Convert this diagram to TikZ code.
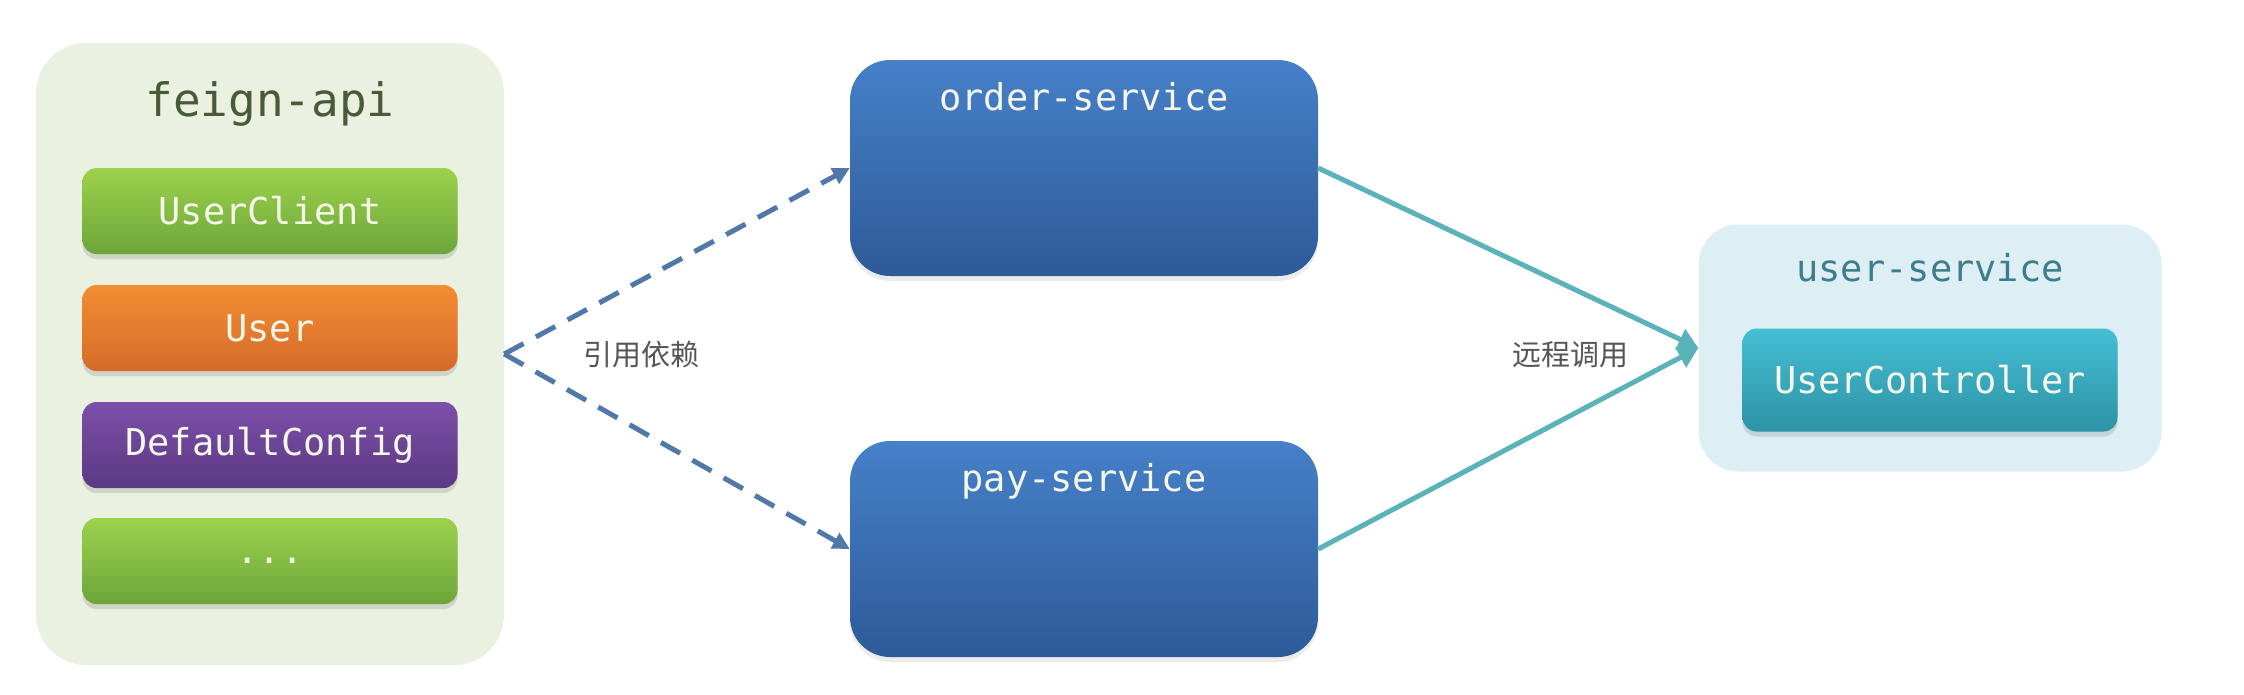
\documentclass[tikz,border=0pt]{standalone}
\usepackage{fontspec}
\setmonofont{DejaVu Sans Mono}
\newfontfamily\cjk{Noto Sans CJK SC}
\usetikzlibrary{shadows,arrows.meta}
\definecolor{feignbg}{HTML}{EAF1E1}
\definecolor{feigntxt}{HTML}{4A5A38}
\definecolor{greentop}{HTML}{9DD24C}
\definecolor{greenbot}{HTML}{6CA63A}
\definecolor{orangetop}{HTML}{F38E31}
\definecolor{orangebot}{HTML}{D66A2A}
\definecolor{purpletop}{HTML}{7C4FA9}
\definecolor{purplebot}{HTML}{5C3983}
\definecolor{bluetop}{HTML}{4680C9}
\definecolor{bluebot}{HTML}{2E5A98}
\definecolor{userbg}{HTML}{DDEEF4}
\definecolor{usertxt}{HTML}{3E7E8C}
\definecolor{tealtop}{HTML}{45BFD5}
\definecolor{tealbot}{HTML}{2D92A5}
\definecolor{dashcol}{HTML}{5078A8}
\definecolor{linecol}{HTML}{5BB3BA}
\definecolor{boxtxt}{HTML}{F4F6E8}
\definecolor{labcol}{HTML}{555555}
\begin{document}
\begin{tikzpicture}[x=1pt,y=-1pt,
  panel/.style={rounded corners=50pt, inner sep=0pt},
  item/.style={rounded corners=14pt, inner sep=0pt, minimum width=375pt, minimum height=86pt,
     text=boxtxt, font=\fontsize{37}{44}\selectfont\ttfamily,
     drop shadow={shadow xshift=0pt, shadow yshift=-5pt, opacity=0.25}},
  svc/.style={rounded corners=40pt, inner sep=0pt, minimum width=468pt, minimum height=216pt,
     top color=bluetop, bottom color=bluebot,
     drop shadow={shadow xshift=0pt, shadow yshift=-5pt, opacity=0.15}},
  svctxt/.style={text=boxtxt, font=\fontsize{37}{44}\selectfont\ttfamily, anchor=north, inner sep=0pt},
  dep/.style={draw=dashcol, line width=5pt, dash pattern=on 22pt off 14pt,
     -{Triangle[length=17pt,width=17pt]}},
  call/.style={draw=linecol, line width=5pt, -{Triangle[length=20pt,width=22pt]}},
  lab/.style={text=labcol, font=\fontsize{29}{34}\selectfont\cjk}
]
\useasboundingbox[fill=white] (0,0) rectangle (2244,694);

% feign-api panel
\node[panel, fill=feignbg, minimum width=468pt, minimum height=622pt] (feign) at (270,354) {};
\node[text=feigntxt, font=\fontsize{46}{54}\selectfont\ttfamily] (feigntitle) at (270,104) {feign-api};
\node[item, top color=greentop, bottom color=greenbot] (uc) at (270,211) {UserClient};
\node[item, top color=orangetop, bottom color=orangebot] (user) at (270,328) {User};
\node[item, top color=purpletop, bottom color=purplebot] (dc) at (270,445) {DefaultConfig};
\node[item, top color=greentop, bottom color=greenbot] (more) at (270,561) {...};

% services
\node[svc] (order) at (1084,168) {};
\node[svctxt] (ordertxt) at (1084,82) {order-service};
\node[svc] (pay) at (1084,549) {};
\node[svctxt] (paytxt) at (1084,463) {pay-service};

% user-service
\node[panel, rounded corners=40pt, fill=userbg, minimum width=463pt, minimum height=247pt] (us) at (1930,348) {};
\node[text=usertxt, font=\fontsize{37}{44}\selectfont\ttfamily] (ustitle) at (1930,268) {user-service};
\node[item, top color=tealtop, bottom color=tealbot, minimum width=375pt, minimum height=103pt] (ctrl) at (1930,380) {UserController};

% connectors
\draw[dep] (feign.east) -- (order.west);
\draw[dep] (feign.east) -- (pay.west);
\draw[call] (order.east) -- (us.west);
\draw[call] (pay.east) -- (us.west);

\node[lab] (l1) at (641,355) {引用依赖};
\node[lab] (l2) at (1570,355) {远程调用};
\end{tikzpicture}
\end{document}
